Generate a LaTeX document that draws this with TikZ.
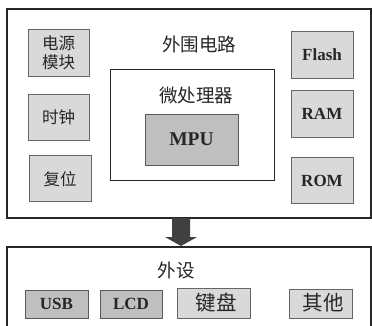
\documentclass[tikz,border=0pt]{standalone}
\usepackage{fontspec}
\setmainfont{Liberation Serif}
\newfontfamily\cjk{Noto Sans CJK SC}
\begin{document}
\begin{tikzpicture}[x=1pt,y=-1pt,
  bigbox/.style={draw=black!85,line width=1.3pt},
  gbox/.style={draw=black!60,line width=0.8pt,fill=black!15},
  dbox/.style={draw=black!65,line width=0.8pt,fill=black!25},
  lab/.style={font=\cjk\fontsize{18.5}{20}\selectfont,text=black!85},
  blab/.style={font=\cjk\fontsize{16.5}{19}\selectfont,text=black!85},
  klab/.style={font=\cjk\fontsize{20.5}{22}\selectfont,text=black!85},
  elab/.style={font=\bfseries\fontsize{17}{19}\selectfont,text=black!85}]
\useasboundingbox (0,0) rectangle (372,325);
\fill[white] (0,0) rectangle (372,325);
\begin{scope}
\clip (0,0) rectangle (372,325);
% top outer
\draw[bigbox] (7,9) rectangle (371,218);
\node[lab] (periph) at (199,44) {外围电路};
\draw[gbox] (28,29) rectangle (89,76);
\node[blab,align=center,inner sep=0pt] (pwr) at (58.5,53) {电源\\模块};
\draw[gbox] (28,94) rectangle (89,140);
\node[blab] (clk) at (58.5,117) {时钟};
\draw[gbox] (29,155) rectangle (91,201);
\node[blab] (rst) at (60,179) {复位};
% micro processor
\draw[bigbox,line width=1pt] (110,69) rectangle (274,180);
\node[lab] (mcu) at (196,95) {微处理器};
\draw[dbox] (145,114) rectangle (238,165);
\node[elab,font=\bfseries\fontsize{19.5}{21}\selectfont] (mpu) at (191.5,139.5) {MPU};
% memories
\draw[gbox] (291,31) rectangle (353,78);
\node[elab] (flash) at (322,55) {Flash};
\draw[gbox] (291,90) rectangle (353,137);
\node[elab] (ram) at (322,114) {RAM};
\draw[gbox] (291,157) rectangle (353,203);
\node[elab] (rom) at (322,181) {ROM};
% arrow
\fill[black!75] (172,218) -- (190,218) -- (190,237) -- (197,237) -- (181,246) -- (165,237) -- (172,237) -- cycle;
% bottom outer
\draw[bigbox] (7,247) rectangle (371,340);
\node[lab] (dev) at (176,270) {外设};
\draw[dbox] (25,290) rectangle (88,318);
\node[elab] (usb) at (56.5,304) {USB};
\draw[dbox] (100,290) rectangle (162,318);
\node[elab] (lcd) at (131,304) {LCD};
\draw[gbox] (177,288) rectangle (250,318);
\node[klab] (kbd) at (216,302.5) {键盘};
\draw[gbox] (289,289) rectangle (352,318);
\node[klab] (oth) at (323,303) {其他};
\end{scope}
\end{tikzpicture}
\end{document}
